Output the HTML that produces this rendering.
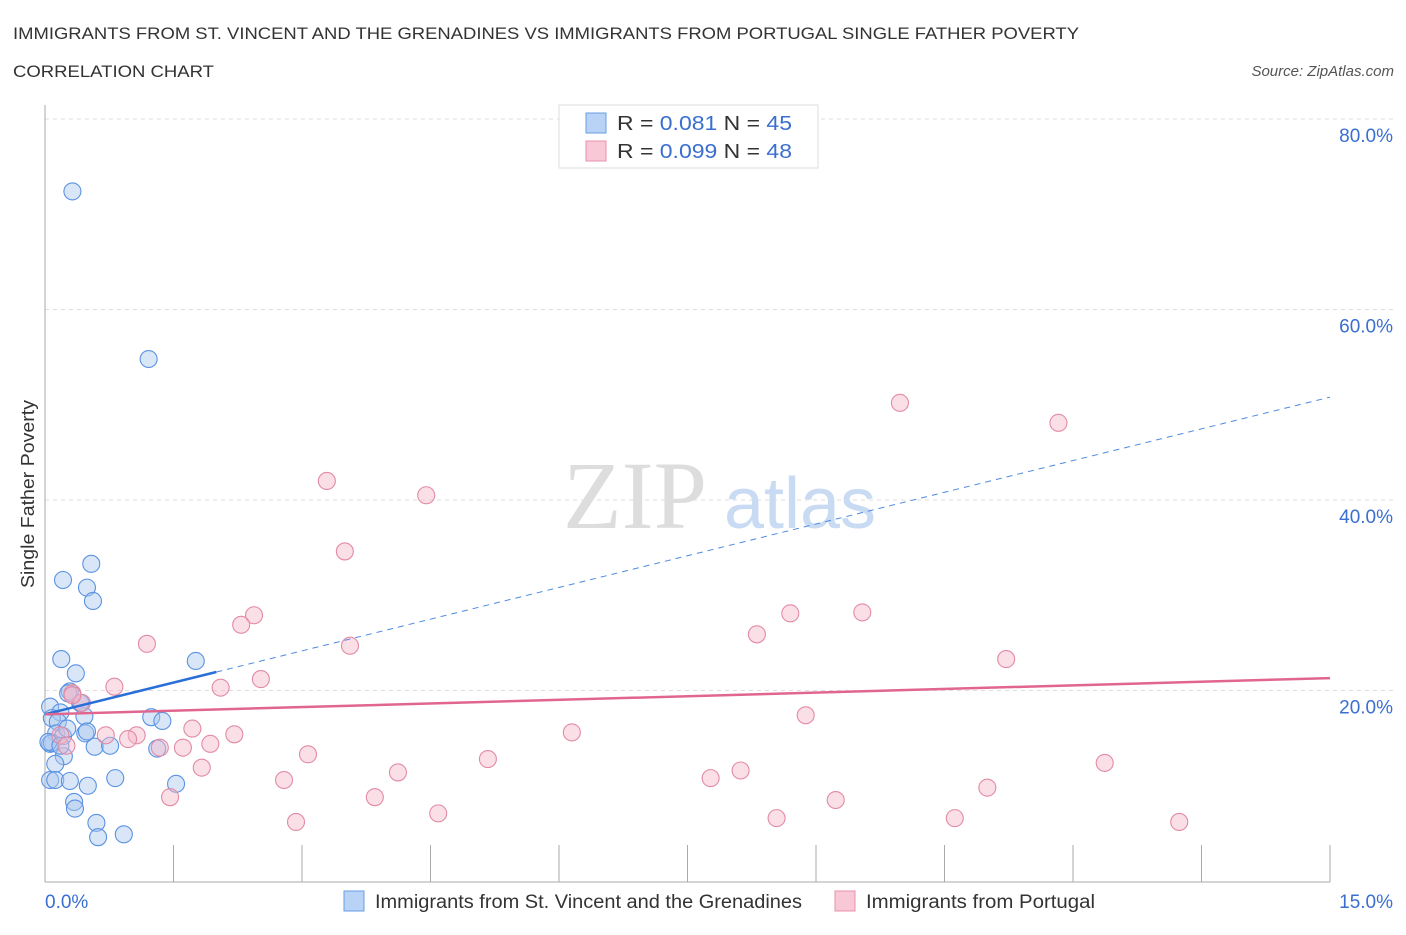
<!DOCTYPE html>
<html><head><meta charset="utf-8"><style>
body{margin:0;background:#fff;font-family:"Liberation Sans",sans-serif;}
</style></head><body>
<svg width="1406" height="930" xmlns="http://www.w3.org/2000/svg" font-family="Liberation Sans, sans-serif">
<text x="13" y="39" font-size="17" fill="#333" textLength="1066" lengthAdjust="spacingAndGlyphs">IMMIGRANTS FROM ST. VINCENT AND THE GRENADINES VS IMMIGRANTS FROM PORTUGAL SINGLE FATHER POVERTY</text>
<text x="13" y="77" font-size="17" fill="#333" textLength="201" lengthAdjust="spacingAndGlyphs">CORRELATION CHART</text>
<text x="1394" y="76" font-size="15" fill="#555" font-style="italic" text-anchor="end">Source: ZipAtlas.com</text>
<g id="grid"></g>
<text x="635" y="528" font-size="96" fill="#ddd" font-family="Liberation Serif, serif" text-anchor="middle">ZIP</text>
<text x="800" y="528" font-size="72" fill="#c9dbf3" text-anchor="middle">atlas</text>
<line x1="45" y1="105" x2="45" y2="882" stroke="#aaa"/>
<line x1="45" y1="882" x2="1330" y2="882" stroke="#aaa"/>
<g id="ticks"></g>
<g id="ylabels"></g>
<text x="45" y="908" font-size="19" fill="#3a6fd0">0.0%</text>
<text x="1393" y="908" font-size="19" fill="#3a6fd0" text-anchor="end">15.0%</text>
<text transform="translate(34,494) rotate(-90)" font-size="18" fill="#333" text-anchor="middle" textLength="188" lengthAdjust="spacingAndGlyphs">Single Father Poverty</text>
<g id="pts"></g>
<g id="trends"></g>
<g>
<rect x="559" y="105" width="259" height="63" fill="#fff" stroke="#ddd"/>
<rect x="586" y="113" width="20" height="20" fill="#b8d3f5" stroke="#6a9ee6"/>
<text x="617" y="130" font-size="20" fill="#333" textLength="175" lengthAdjust="spacingAndGlyphs">R = <tspan fill="#3a6fd0"> 0.081</tspan>   N = <tspan fill="#3a6fd0">45</tspan></text>
<rect x="586" y="141" width="20" height="20" fill="#f9c8d6" stroke="#e890aa"/>
<text x="617" y="158" font-size="20" fill="#333" textLength="175" lengthAdjust="spacingAndGlyphs">R = <tspan fill="#3a6fd0">0.099</tspan>   N = <tspan fill="#3a6fd0">48</tspan></text>
</g>
<g>
<rect x="344" y="891" width="20" height="20" fill="#b8d3f5" stroke="#6a9ee6"/>
<text x="375" y="908" font-size="19" fill="#333" textLength="427" lengthAdjust="spacingAndGlyphs">Immigrants from St. Vincent and the Grenadines</text>
<rect x="835" y="891" width="20" height="20" fill="#f9c8d6" stroke="#e890aa"/>
<text x="866" y="908" font-size="19" fill="#333" textLength="229" lengthAdjust="spacingAndGlyphs">Immigrants from Portugal</text>
</g>
</svg>
<script>
const blueX=[0.32,1.21,0.54,0.21,0.49,0.56,0.19,0.36,1.76,0.06,0.18,0.41,0.46,1.24,1.37,0.08,0.15,0.13,0.21,0.47,0.49,0.58,1.31,0.06,0.22,0.12,0.06,0.12,0.29,0.5,0.82,1.53,0.34,0.35,0.6,0.62,0.92,0.29,0.42,0.26,0.08,0.04,0.27,0.76,0.18];
const blueY=[72.4,54.8,33.3,31.6,30.8,29.4,23.3,21.8,23.1,18.3,17.7,18.7,17.3,17.2,16.8,17.1,16.7,15.5,15.2,15.5,15.7,14.1,13.9,14.4,13.1,12.3,10.6,10.6,10.5,10.0,10.8,10.2,8.3,7.6,6.1,4.6,4.9,19.9,18.7,16.0,14.5,14.6,19.7,14.2,14.2];
const pinkX=[9.98,11.83,3.29,4.45,3.5,2.44,2.29,1.19,3.56,8.31,8.7,9.54,11.22,0.81,2.05,2.52,0.32,0.43,8.88,0.71,1.07,0.97,1.72,2.21,6.15,1.34,1.61,1.93,3.07,1.83,5.17,4.12,8.12,7.77,12.37,2.79,1.46,3.85,9.23,11.0,2.93,4.59,8.54,10.62,13.24,0.18,0.25,0.32];
const pinkY=[50.2,48.1,42.0,40.5,34.6,27.9,26.9,24.9,24.7,25.9,28.1,28.2,23.3,20.4,20.3,21.2,19.7,18.7,17.4,15.3,15.3,14.9,16.0,15.4,15.6,14.0,14.0,14.4,13.3,11.9,12.8,11.4,11.6,10.8,12.4,10.6,8.8,8.8,8.5,9.8,6.2,7.1,6.6,6.6,6.2,15.3,14.2,19.5];
const yTicks=[20,40,60,80];
const blueTrend=[0,0.081,17.5,2.0,50.8];
const pinkTrend=[17.5,21.3];
const NS="http://www.w3.org/2000/svg";
const sx=v=>45+v/15*1285, sy=v=>881-v*9.525;
function mk(t,a,p){const e=document.createElementNS(NS,t);for(const k in a)e.setAttribute(k,a[k]);p.appendChild(e);return e;}
const grid=document.getElementById('grid'),yl=document.getElementById('ylabels');
for(const t of yTicks){
 const l=mk('line',{x1:45,x2:1395,y1:sy(t),y2:sy(t),stroke:'#ddd','stroke-dasharray':'4,4'},grid);
 
 
 const tx=mk('text',{x:1393,y:sy(t)+23,'font-size':19,fill:'#3a6fd0','text-anchor':'end'},yl);
 tx.textContent=t.toFixed(1)+'%';
 
 
}
const tk=document.getElementById('ticks');
for(let i=0;i<=10;i++){const x=45+i*128.5;const l=mk('line',{x1:x,x2:x,y1:845,y2:882,stroke:'#aaa'},tk);
 
 }
const pts=document.getElementById('pts');
function draw(X,Y,fill,stroke,name){for(let i=0;i<X.length;i++){const c=mk('circle',{cx:sx(X[i]),cy:sy(Y[i]),r:8.5,fill:fill,'fill-opacity':0.45,stroke:stroke,'stroke-width':1.1},pts);
 
 }}
draw(blueX,blueY,'#aac8f0','#5a92e2','blue-point');
draw(pinkX,pinkY,'#f5b8ca','#e38aa5','pink-point');
const tr=document.getElementById('trends');
const bs=mk('line',{x1:sx(0),y1:sy(blueTrend[2]),x2:sx(blueTrend[3]),y2:sy(blueTrend[2]+(blueTrend[4]-blueTrend[2])*blueTrend[3]/15),stroke:'#2a6fd8','stroke-width':2.5},tr);


const bd=mk('line',{x1:sx(blueTrend[3]),y1:sy(blueTrend[2]+(blueTrend[4]-blueTrend[2])*blueTrend[3]/15),x2:sx(15),y2:sy(blueTrend[4]),stroke:'#4f8ae0','stroke-width':1,'stroke-dasharray':'6,5'},tr);


const pt=mk('line',{x1:sx(0),y1:sy(pinkTrend[0]),x2:sx(15),y2:sy(pinkTrend[1]),stroke:'#e06690','stroke-width':2.5},tr);


</script>
</body></html>
